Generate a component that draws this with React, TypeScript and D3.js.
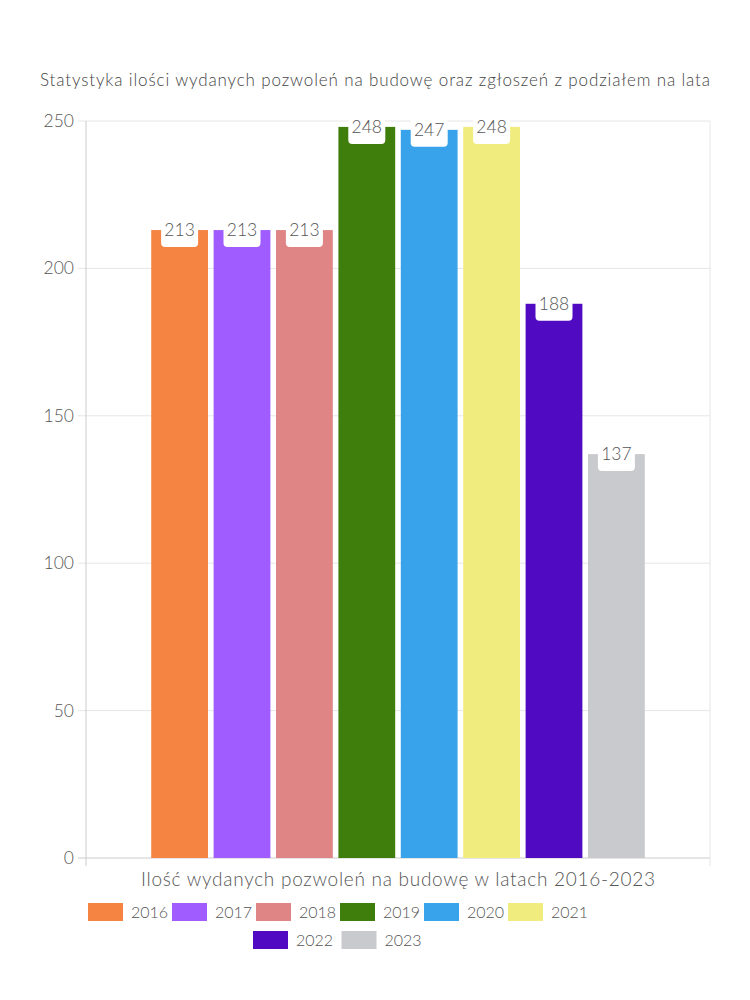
import React from "react";
import * as d3 from "d3";

const years = ["2016", "2017", "2018", "2019", "2020", "2021", "2022", "2023"];
const values = [213, 213, 213, 248, 247, 248, 188, 137];
const colors = ["#f58442", "#a05cff", "#e08585", "#3f7d0d", "#38a3eb", "#f0ec7e", "#500bc2", "#c9cacd"];
const yTicks = [0, 50, 100, 150, 200, 250];
const title = "Statystyka ilości wydanych pozwoleń na budowę oraz zgłoszeń z podziałem na lata";
const xTitle = "Ilość wydanych pozwoleń na budowę w latach 2016-2023";

const FONT = "Lato, 'Noto Sans', sans-serif";

export default function App() {
  const left = 86, right = 710, top = 121, bottom = 858;
  const y = d3.scaleLinear().domain([0, 250]).range([bottom, top]);
  const plotW = right - left;
  const group = d3.scaleBand<string>().domain(years)
    .range([left + plotW * 0.1, right - plotW * 0.1]).paddingInner(0.09).paddingOuter(0.045);
  const legendStart = 88, legendStep = 84;
  const row2Start = 253, row2Step = 88.5;
  return (
    <svg width={750} height={1000} style={{ position: "absolute", left: 0, top: 0, fontFamily: FONT }}>
      <rect width={750} height={1000} fill="#fff" />
      <text x={375} y={86} textAnchor="middle" fontSize={17} fontWeight={300} fill="#444"
        textLength={670} lengthAdjust="spacing">{title}</text>
      {yTicks.map(t => (
        <g key={t}>
          <line x1={78} x2={right} y1={y(t)} y2={y(t)} stroke={t === 0 ? "#cccccc" : "#e6e6e6"} />
          <text x={74} y={y(t) + 6} textAnchor="end" fontSize={17.5} fontWeight={300} fill="#555">{t}</text>
        </g>
      ))}
      <line x1={left} x2={left} y1={top} y2={866} stroke="#cccccc" />
      <line x1={right} x2={right} y1={top} y2={866} stroke="#e6e6e6" />
      {years.map((yr, i) => {
        const x = group(yr)!;
        const w = group.bandwidth();
        const yy = y(values[i]);
        const cx = x + w / 2;
        return (
          <g key={yr}>
            <rect x={x} y={yy} width={w} height={bottom - yy} fill={colors[i]} />
            <rect x={cx - 18.5} y={yy - 16} width={37} height={33} rx={4} fill="#fff" />
            <text x={cx} y={yy + 6} textAnchor="middle" fontSize={17.5} fontWeight={300} fill="#555">{values[i]}</text>
          </g>
        );
      })}
      <text x={398} y={886} textAnchor="middle" fontSize={19} fontWeight={300} fill="#555"
        textLength={514} lengthAdjust="spacing">{xTitle}</text>
      {years.map((yr, i) => {
        const row = i < 6 ? 0 : 1;
        const x = row === 0 ? legendStart + i * legendStep : row2Start + (i - 6) * row2Step;
        const yy = row === 0 ? 903 : 931;
        return (
          <g key={"l" + yr}>
            <rect x={x} y={yy} width={35} height={18} fill={colors[i]} />
            <text x={x + 43} y={yy + 15} fontSize={16} fontWeight={300} fill="#555">{yr}</text>
          </g>
        );
      })}
    </svg>
  );
}
